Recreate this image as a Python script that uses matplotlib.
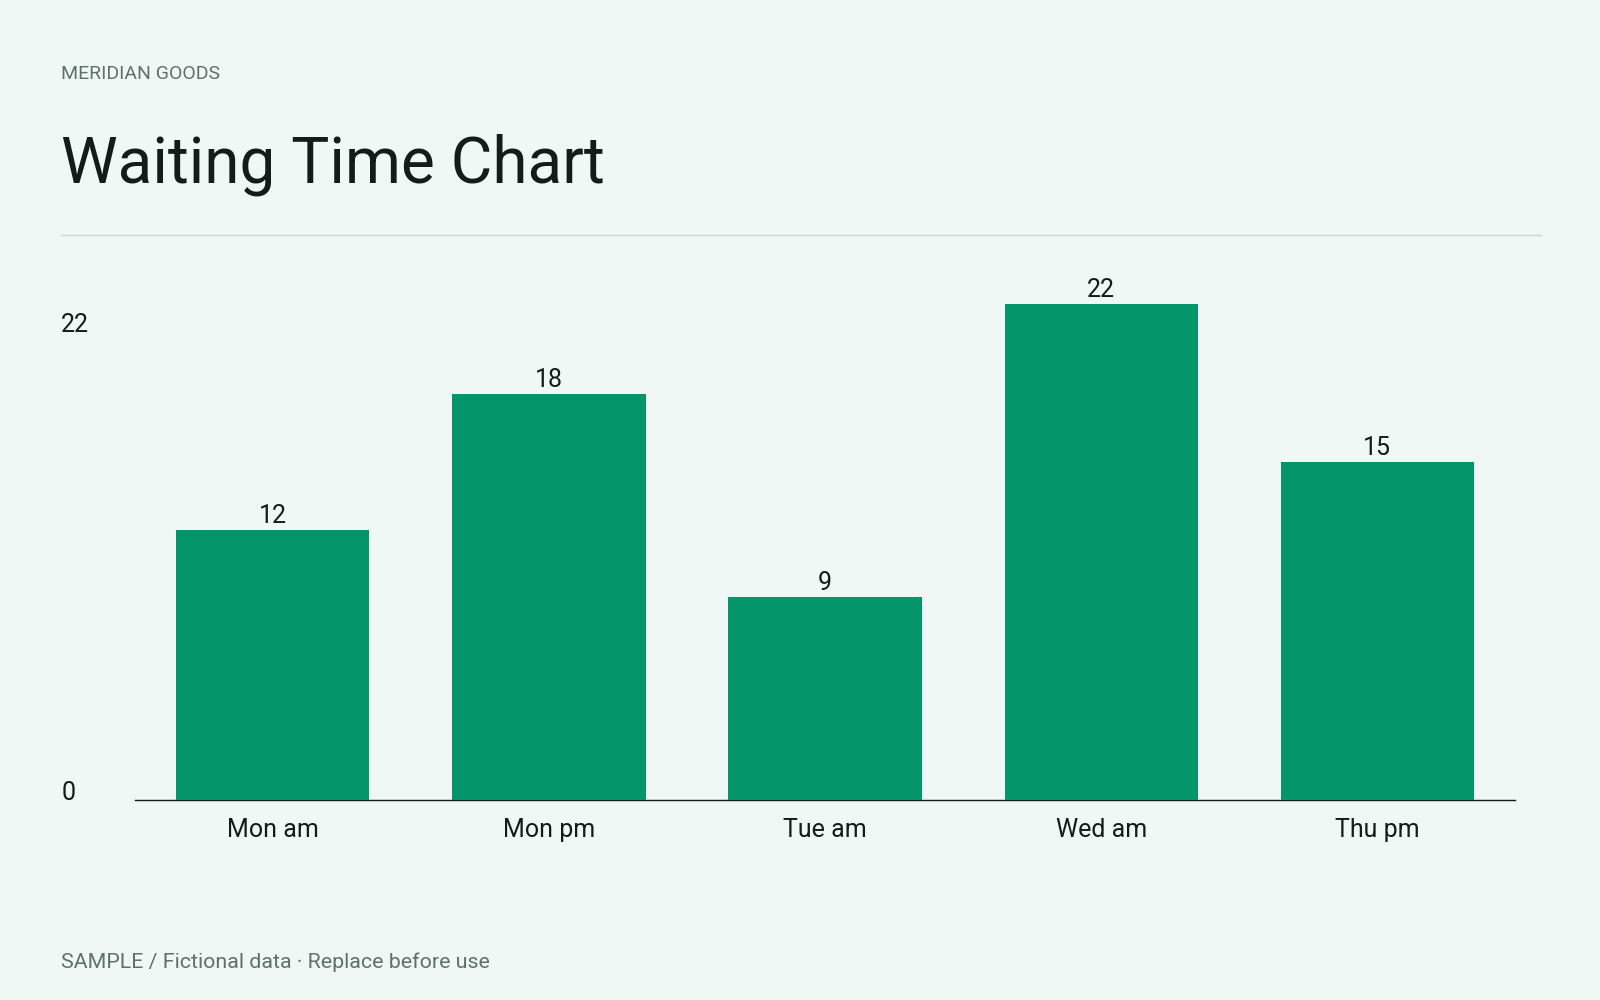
import matplotlib.pyplot as plt
from matplotlib.transforms import blended_transform_factory

# data
categories = ['Mon am', 'Mon pm', 'Tue am', 'Wed am', 'Thu pm']
waits = [12, 18, 9, 22, 15]
y_labels = [0, 22]

BG = '#eff8f5'
BAR = '#05956a'
INK = '#141c19'
MUTED = '#5f716a'

plt.rcParams['font.family'] = ['Roboto', 'DejaVu Sans']

fig = plt.figure(figsize=(16, 10), dpi=100, facecolor=BG)

fig.text(0.0383, 0.9214, 'MERIDIAN GOODS', fontsize=14, color=MUTED, va='baseline')
fig.text(0.0383, 0.8175, 'Waiting Time Chart', fontsize=46, color=INK, va='baseline')
fig.add_artist(plt.Line2D([0.0383, 0.963], [0.7653, 0.7653], color='#cdd5d1', lw=1))
fig.text(0.0383, 0.032, 'SAMPLE / Fictional data \u00b7 Replace before use',
         fontsize=15.4, color=MUTED, va='baseline')

ax = fig.add_axes([0.0842, 0.2, 0.8629, 0.541])
ax.set_facecolor(BG)
x = range(len(categories))
ax.bar(x, waits, width=0.7, color=BAR, zorder=3)
ax.set_xlim(-0.5, len(categories) - 0.5)
ax.set_ylim(0, 24)

for s in ['top', 'right', 'left']:
    ax.spines[s].set_visible(False)
ax.spines['bottom'].set_color(INK)
ax.spines['bottom'].set_linewidth(1)
ax.spines['bottom'].set_zorder(2)

ax.set_yticks([])
ax.set_xticks(list(x))
ax.set_xticklabels(categories, fontsize=18, color=INK)
ax.tick_params(axis='x', length=0, pad=13)

for i, v in enumerate(waits):
    ax.annotate(str(v), (i, v), xytext=(0, 5), textcoords='offset points',
                ha='center', va='baseline', fontsize=18, color=INK)

# y labels sit at the left margin
trans = blended_transform_factory(fig.transFigure, ax.transData)
ax.text(0.0383, y_labels[0], str(y_labels[0]), transform=trans,
        fontsize=18, color=INK, va='baseline')
fig.text(0.0383, 0.6684, str(y_labels[1]), fontsize=18, color=INK, va='baseline')

fig.savefig('out.png', dpi=100, facecolor=BG)
